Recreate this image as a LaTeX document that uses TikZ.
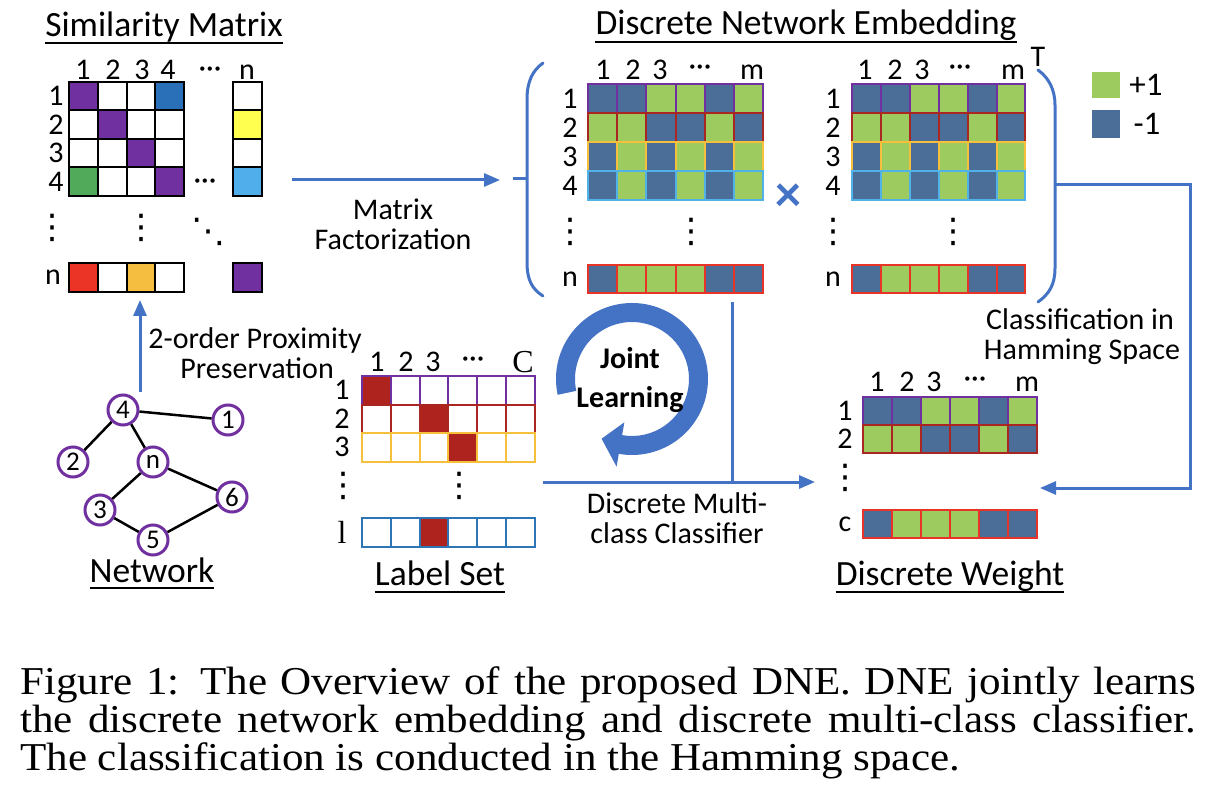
\documentclass[tikz,border=0pt]{standalone}
\usepackage{fontspec}
\setmainfont{Carlito}
\newfontfamily\capfont{Liberation Serif}[FakeStretch=1.09]
\newfontfamily\serfont{Liberation Serif}
\newfontfamily\symfont{DejaVu Sans}
\usetikzlibrary{arrows.meta}
\newcommand\fs[1]{\fontsize{#1}{#1}\selectfont}
\definecolor{cB}{RGB}{75,110,152}
\definecolor{cG}{RGB}{157,203,95}
\definecolor{arrB}{RGB}{68,114,196}
\definecolor{pur}{RGB}{112,48,160}
\definecolor{dRed}{RGB}{170,38,34}
\definecolor{gold}{RGB}{246,192,60}
\definecolor{lBlu}{RGB}{80,178,230}
\definecolor{bRed}{RGB}{232,52,40}
\definecolor{lsBlu}{RGB}{46,117,182}
\definecolor{sBlu}{RGB}{42,112,185}
\definecolor{sYel}{RGB}{255,255,80}
\definecolor{sGrn}{RGB}{80,170,90}
\definecolor{sLBl}{RGB}{80,175,235}
\definecolor{sRed}{RGB}{235,52,38}
\definecolor{sOra}{RGB}{245,190,65}
\definecolor{labRed}{RGB}{175,35,30}
% #1 x0, #2 y0, #3 w, #4 h, #5 border, #6 fills
\newcommand\cellrow[6]{%
  \foreach \f [count=\i from 0] in {#6} {
    \filldraw[fill=\f, draw=#5, line width=2pt] ({#1+\i*#3},#2) rectangle ++(#3,#4);
  }}
\begin{document}
\begin{tikzpicture}[x=1pt,y=-1pt,
  lab/.style={inner sep=0pt, font=\fs{30}},
  blab/.style={inner sep=0pt, font=\fs{30}, anchor=base},
  ttl/.style={inner sep=0pt, font=\fs{35.5}, anchor=base},
  dotv/.style={inner sep=0pt, font=\symfont\fs{34}},
  conn/.style={draw=arrB, line width=3pt},
  arr/.style={conn, -{Triangle[length=16pt,width=13pt]}},
  vtx/.style={circle, draw=pur, fill=white, line width=3pt, minimum size=30pt, inner sep=0pt, font=\fs{27}},
  netedge/.style={draw=black, line width=2.5pt},
  uline/.style={draw=black, line width=2pt},
]
\fill[white] (0,0) rectangle (1218,810);
\useasboundingbox (0,0) rectangle (1218,810);

% ---------------- Similarity matrix ----------------
\node[ttl] (tSim) at (164,37) {Similarity Matrix};
\draw[uline] ([yshift=-6pt]tSim.base west) -- ([yshift=-6pt]tSim.base east);
\cellrow{69}{82}{28.75}{28.5}{black}{pur,white,white,sBlu}
\cellrow{69}{110.5}{28.75}{28.5}{black}{white,pur,white,white}
\cellrow{69}{139}{28.75}{28.5}{black}{white,white,pur,white}
\cellrow{69}{167.5}{28.75}{28.5}{black}{sGrn,white,white,pur}
\cellrow{69}{263}{28.75}{29}{black}{sRed,white,sOra,white}
\cellrow{233}{82}{29}{28.5}{black}{white}
\cellrow{233}{110.5}{29}{28.5}{black}{sYel}
\cellrow{233}{139}{29}{28.5}{black}{white}
\cellrow{233}{167.5}{29}{28.5}{black}{sLBl}
\cellrow{233}{263}{29}{29}{black}{pur}
\node[lab] (sc1) at (83,70) {1};
\node[lab] (sc2) at (113,70) {2};
\node[lab] (sc3) at (142,70) {3};
\node[lab] (sc4) at (168,70) {4};
\node[lab] (scd) at (210,72) {···};
\node[lab] (scn) at (247,72) {n};
\node[lab] (sr1) at (56,96) {1};
\node[lab] (sr2) at (56,124.5) {2};
\node[lab] (sr3) at (56,153) {3};
\node[lab] (sr4) at (56,182) {4};
\node[lab] (srn) at (53,277.5) {n};
\node[lab] (srd) at (205,184) {···};
\node[dotv] (sv1) at (52,228) {⋮};
\node[dotv] (sv2) at (141,228) {⋮};
\node[dotv] (sv3) at (208,232) {⋱};

% ---------------- Matrix factorization ----------------
\coordinate (mfS) at (292,180);
\coordinate (mfE) at (500,180);
\draw[arr] (mfS) -- (mfE);
\node[blab] (mf1) at (393,220) {Matrix};
\node[blab] (mf2) at (393,250) {Factorization};

% ---------------- Discrete network embedding ----------------
\node[ttl] (tDNE) at (806,35) {Discrete Network Embedding};
\draw[uline] ([yshift=-7pt]tDNE.base west) -- ([yshift=-7pt]tDNE.base east);
% brackets
\draw[conn, line cap=round] (543,63) .. controls (532,71) and (527,82) .. (527,100) -- (527,262) .. controls (527,280) and (532,289) .. (543,296);
\draw[conn] (513,179) -- (527,179);
\draw[conn, line cap=round] (1038,70) .. controls (1049,78) and (1055,90) .. (1055,105) -- (1055,268) .. controls (1055,285) and (1049,294) .. (1038,302);
% matrix 1
\cellrow{588}{84}{29.17}{29}{pur}{cB,cB,cG,cG,cB,cG}
\cellrow{588}{113}{29.17}{29}{dRed}{cG,cG,cB,cB,cG,cB}
\cellrow{588}{142}{29.17}{29}{gold}{cB,cG,cB,cG,cB,cG}
\cellrow{588}{171}{29.17}{29}{lBlu}{cB,cG,cB,cG,cB,cG}
\cellrow{588}{265}{29.17}{28}{bRed}{cB,cG,cG,cG,cB,cB}
\node[lab] (ac1) at (603,70) {1};
\node[lab] (ac2) at (633,70) {2};
\node[lab] (ac3) at (660,70) {3};
\node[lab] (acd) at (700,70) {···};
\node[lab] (acm) at (752,72) {m};
\node[lab] (ar1) at (570,98.5) {1};
\node[lab] (ar2) at (570,127.5) {2};
\node[lab] (ar3) at (570,156.5) {3};
\node[lab] (ar4) at (570,185.5) {4};
\node[lab] (arn) at (570,279) {n};
\node[dotv] (av1) at (570,232) {⋮};
\node[dotv] (av2) at (691,232) {⋮};
% times
\node[inner sep=0pt, font=\bfseries\fs{52}, text=arrB] (times) at (788,198) {×};
% matrix 2
\cellrow{852}{84}{28.9}{29}{pur}{cB,cB,cG,cG,cB,cG}
\cellrow{852}{113}{28.9}{29}{dRed}{cG,cG,cB,cB,cG,cB}
\cellrow{852}{142}{28.9}{29}{gold}{cB,cG,cB,cG,cB,cG}
\cellrow{852}{171}{28.9}{29}{lBlu}{cB,cG,cB,cG,cB,cG}
\cellrow{852}{265}{28.9}{28}{bRed}{cB,cG,cG,cG,cB,cB}
\node[lab] (bc1) at (865,70) {1};
\node[lab] (bc2) at (895,70) {2};
\node[lab] (bc3) at (922,70) {3};
\node[lab] (bcd) at (960,70) {···};
\node[lab] (bcm) at (1013,72) {m};
\node[lab] (bT) at (1038,57) {T};
\node[lab] (br1) at (833,98.5) {1};
\node[lab] (br2) at (833,127.5) {2};
\node[lab] (br3) at (833,156.5) {3};
\node[lab] (br4) at (833,185.5) {4};
\node[lab] (brn) at (833,279) {n};
\node[dotv] (bv1) at (833,232) {⋮};
\node[dotv] (bv2) at (953,232) {⋮};
% legend
\fill[cG] (1092,72) rectangle (1120,98);
\fill[cB] (1092,110) rectangle (1120,138);
\node[inner sep=0pt, font=\fs{33}] (lgP) at (1146,85) {+1};
\node[inner sep=0pt, font=\fs{33}] (lgM) at (1147,124) {-1};

% ---------------- Classification in Hamming space ----------------
\coordinate (rbM) at (1055,185);
\coordinate (rbC) at (1190,185);
\coordinate (dwIn) at (1040,488);
\draw[arr] (rbM) -- (rbC) |- (dwIn);
\node[blab] (ch1) at (1080,330) {Classification in};
\node[blab] (ch2) at (1082,359) {Hamming Space};

% ---------------- Discrete weight ----------------
\cellrow{863}{397}{29}{28}{pur}{cB,cB,cG,cG,cB,cG}
\cellrow{863}{425}{29}{28}{dRed}{cG,cG,cB,cB,cG,cB}
\cellrow{863}{510}{29}{28}{bRed}{cB,cG,cG,cG,cB,cB}
\node[lab] (wc1) at (877,382) {1};
\node[lab] (wc2) at (907,382) {2};
\node[lab] (wc3) at (934,382) {3};
\node[lab] (wcd) at (975,382) {···};
\node[lab] (wcm) at (1027,384) {m};
\node[lab] (wr1) at (845,411) {1};
\node[lab] (wr2) at (845,439) {2};
\node[lab] (wrc) at (845,524) {c};
\node[dotv] (wv1) at (845,478) {⋮};
\node[ttl] (tDW) at (950,585) {Discrete Weight};
\draw[uline] ([yshift=-7pt]tDW.base west) -- ([yshift=-7pt]tDW.base east);

% ---------------- Joint learning ----------------
\fill[arrB, shift={(632,379)}] (-192:76) arc[start angle=-192, end angle=100, radius=76]
  -- (100:89) -- (117:67) -- (100:44) -- (100:57)
  arc[start angle=100, end angle=-192, radius=57] -- cycle;
\node[inner sep=0pt, font=\bfseries\fs{30}, anchor=base] (jl1) at (630,368) {Joint};
\node[inner sep=0pt, font=\bfseries\fs{30}, anchor=base] (jl2) at (630,407) {Learning};
\coordinate (vT) at (732,302);
\coordinate (vB) at (732,482);
\coordinate (hS) at (543,482);
\coordinate (hE) at (815,482);
\draw[conn] (vT) -- (vB);
\draw[arr] (hS) -- (hE);
\node[blab] (dm1) at (677,513) {Discrete Multi-};
\node[blab] (dm2) at (677,543) {class Classifier};

% ---------------- Label set ----------------
\cellrow{362}{376}{28.8}{28.5}{pur}{labRed,white,white,white,white,white}
\cellrow{362}{404.5}{28.8}{28.5}{dRed}{white,white,labRed,white,white,white}
\cellrow{362}{433}{28.8}{28.5}{gold}{white,white,white,labRed,white,white}
\cellrow{362}{518}{28.8}{29}{lsBlu}{white,white,labRed,white,white,white}
\node[lab] (lc1) at (377,362) {1};
\node[lab] (lc2) at (406,362) {2};
\node[lab] (lc3) at (433,362) {3};
\node[lab] (lcd) at (473,362) {···};
\node[inner sep=0pt, font=\serfont\fs{32}] (lcC) at (523,362) {C};
\node[lab] (lr1) at (342,390) {1};
\node[lab] (lr2) at (342,418.5) {2};
\node[lab] (lr3) at (342,447) {3};
\node[inner sep=0pt, font=\serfont\fs{32}] (lrl) at (342,532) {l};
\node[dotv] (lv1) at (343,486) {⋮};
\node[dotv] (lv2) at (459,486) {⋮};
\node[ttl] (tLS) at (440,585) {Label Set};
\draw[uline] ([yshift=-7pt]tLS.base west) -- ([yshift=-7pt]tLS.base east);

% ---------------- Network ----------------
\node[vtx] (v4) at (123,410) {4};
\node[vtx] (v1) at (228,420) {1};
\node[vtx] (v2) at (73,462) {2};
\node[vtx] (vn) at (153,462) {n};
\node[vtx] (v3) at (100,510) {3};
\node[vtx] (v6) at (232,497) {6};
\node[vtx] (v5) at (153,540) {5};
\draw[netedge] (v4) -- (v1);
\draw[netedge] (v4) -- (v2);
\draw[netedge] (v4) -- (vn);
\draw[netedge] (vn) -- (v3);
\draw[netedge] (vn) -- (v6);
\draw[netedge] (v3) -- (v5);
\draw[netedge] (v5) -- (v6);
\node[ttl] (tNet) at (152,582) {Network};
\draw[uline] ([yshift=-6pt]tNet.base west) -- ([yshift=-6pt]tNet.base east);
\coordinate (prS) at (140,392);
\coordinate (prE) at (140,300);
\draw[arr] (prS) -- (prE);
\node[blab] (pp1) at (255,348) {2-order Proximity};
\node[blab] (pp2) at (257,378) {Preservation};

% ---------------- Caption ----------------
\node[anchor=base west, inner sep=0pt, align=left,
      font=\capfont\fontsize{39.5}{38}\selectfont] (cap) at (20,770)
  {\makebox[1176pt][s]{Figure 1: The Overview of the proposed DNE. DNE jointly learns}\\
   \makebox[1176pt][s]{the discrete network embedding and discrete multi-class classifier.}\\
   The classification is conducted in the Hamming space.};
\end{tikzpicture}
\end{document}
